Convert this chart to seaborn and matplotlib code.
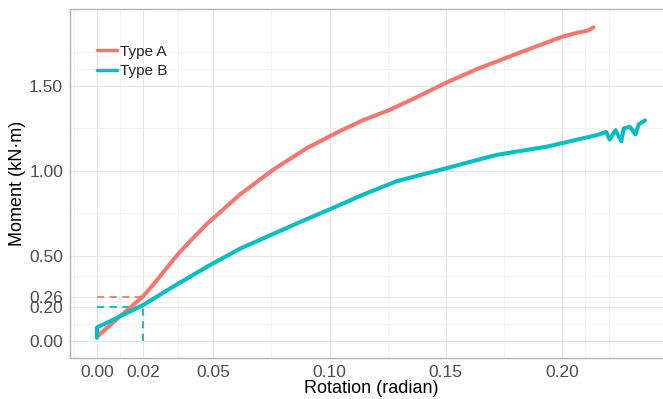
import matplotlib
matplotlib.use('Agg')
import matplotlib.pyplot as plt
import seaborn as sns
import pandas as pd

sns.set_style('white')
plt.rcParams['font.family'] = ['Liberation Sans', 'DejaVu Sans']

# curve points
rot_a = [0.0, 0.0004, 0.005, 0.0099, 0.015, 0.02, 0.025, 0.03, 0.0357, 0.0472, 0.0615, 0.0758,
         0.0902, 0.1002, 0.1045, 0.1146, 0.1253, 0.1375, 0.1504, 0.1633, 0.1762, 0.1891,
         0.2006, 0.207, 0.211, 0.2135]
mom_a = [0.02, 0.03, 0.085, 0.145, 0.205, 0.265, 0.345, 0.43, 0.525, 0.688, 0.862, 1.008,
         1.134, 1.205, 1.235, 1.30, 1.356, 1.434, 1.521, 1.599, 1.667, 1.734,
         1.792, 1.815, 1.825, 1.845]

rot_b = [0.0, 0.0, 0.0056, 0.02, 0.0328, 0.0472, 0.0615, 0.0758, 0.0902, 0.1002, 0.1146,
         0.1289, 0.1504, 0.1719, 0.1934, 0.2149, 0.219, 0.2205, 0.223, 0.2255, 0.2265,
         0.2292, 0.2315, 0.233, 0.2357]
mom_b = [0.02, 0.08, 0.116, 0.213, 0.32, 0.436, 0.543, 0.63, 0.717, 0.775, 0.862,
         0.94, 1.017, 1.095, 1.143, 1.211, 1.23, 1.185, 1.24, 1.175, 1.25,
         1.26, 1.215, 1.275, 1.298]

yield_x = 0.02
yield_a = 0.26
yield_b = 0.20

x_breaks = [0.00, 0.02, 0.05, 0.10, 0.15, 0.20]
y_breaks = [0.00, 0.20, 0.26, 0.50, 1.00, 1.50]
x_minor = [-0.01, 0.01, 0.035, 0.075, 0.125, 0.175, 0.21, 0.22]
y_minor = [-0.1, 0.1, 0.23, 0.38, 0.75, 1.25, 1.6, 1.7]

df = pd.concat([
    pd.DataFrame({'Rotation': rot_a, 'Moment': mom_a, 'Type': 'Type A'}),
    pd.DataFrame({'Rotation': rot_b, 'Moment': mom_b, 'Type': 'Type B'}),
], ignore_index=True)

red = '#F8766D'
cyan = '#00BFC4'

fig = plt.figure(figsize=(6.63, 3.99), dpi=100)
ax = fig.add_axes([0.1056, 0.1028, 0.908, 0.8747])

sns.lineplot(data=df, x='Rotation', y='Moment', hue='Type', sort=False, estimator=None,
             palette={'Type A': red, 'Type B': cyan}, linewidth=2.9, ax=ax, zorder=3)

dash = (0, (4, 3))
ax.plot([0, yield_x], [yield_a, yield_a], color=red, lw=1.3, ls=dash, zorder=2)
ax.plot([0, yield_x], [yield_b, yield_b], color=cyan, lw=1.3, ls=dash, zorder=2)
ax.plot([yield_x, yield_x], [0, yield_b], color=cyan, lw=1.3, ls=dash, zorder=2)

ax.set_xlim(-0.0116, 0.2473)
ax.set_ylim(-0.0756, 1.953)
ax.set_xticks(x_breaks)
ax.set_xticklabels(['%.2f' % v for v in x_breaks])
ax.set_yticks(y_breaks)
ax.set_yticklabels(['%.2f' % v for v in y_breaks])
ax.set_xticks(x_minor, minor=True)
ax.set_yticks(y_minor, minor=True)
ax.grid(which='major', color='#E6E6E6', lw=0.8)
ax.grid(which='minor', color='#F1F1F1', lw=0.6)
ax.set_axisbelow(True)
ax.tick_params(which='major', direction='out', length=3, width=0.8, color='#9A9A9A',
               labelsize=12.5, labelcolor='#4D4D4D', pad=2)
ax.tick_params(which='minor', length=0)
for s in ax.spines.values():
    s.set_color('#B3B3B3')
    s.set_linewidth(1.0)

ax.set_xlabel('Rotation (radian)', fontsize=13, color='black', labelpad=0)
ax.set_ylabel('Moment (kN·m)', fontsize=13, color='black', labelpad=2)

leg = ax.legend(loc='upper left', bbox_to_anchor=(0.035, 0.915), frameon=False,
                fontsize=11, handlelength=1.3, handletextpad=0.2, labelspacing=0.35,
                borderaxespad=0)
for h in leg.get_lines():
    h.set_linewidth(2.5)

fig.savefig('out.png', dpi=100)
